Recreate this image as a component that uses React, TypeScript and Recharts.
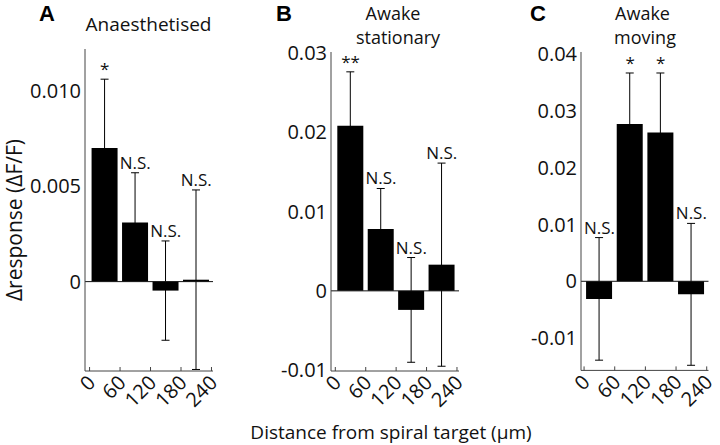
import { Bar, ComposedChart, ErrorBar, LabelList, Line, ReferenceLine, XAxis, YAxis } from "recharts";

// bar centres (µm)
const distances = [30, 90, 150, 210];
const xTicks = [0, 60, 120, 180, 240];
const xTickLabels = ["0", "60", "120", "180", "240"];

// A - anaesthetised
const anaesthetisedMean = [0.007, 0.0031, -0.00047, 0.0001];
const anaesthetisedErr = [0.0036, 0.0026, 0.0026, 0.0047];
const anaesthetisedSig = ["*", "N.S.", "N.S.", "N.S."];
const anaesthetisedTicks = [0, 0.005, 0.01];
const anaesthetisedTickLabels = ["0", "0.005", "0.010"];

// B - awake stationary
const stationaryMean = [0.0208, 0.0078, -0.0024, 0.0033];
const stationaryErr = [0.0068, 0.0051, 0.0066, 0.0128];
const stationarySig = ["**", "N.S.", "N.S.", "N.S."];
const stationaryTicks = [-0.01, 0, 0.01, 0.02, 0.03];
const stationaryTickLabels = ["-0.01", "0", "0.01", "0.02", "0.03"];

// C - awake moving
const movingMean = [-0.0031, 0.0277, 0.0262, -0.0023];
const movingErr = [0.0108, 0.009, 0.0105, 0.0125];
const movingSig = ["N.S.", "*", "*", "N.S."];
const movingTicks = [-0.01, 0, 0.01, 0.02, 0.03, 0.04];
const movingTickLabels = ["-0.01", "0", "0.01", "0.02", "0.03", "0.04"];

const FONT = "'Open Sans', sans-serif";
const AXIS = "#444";
const Y_AXIS_W = 60;
const M_TOP = 20;
const M_RIGHT = 10;
const X_AXIS_H = 45;

const XTick = ({ x, y, payload, index }: any) => {
  const tx = x + 7;
  const ty = y + 13;
  return (
    <g>
      <line x1={x} y1={y} x2={x} y2={y - 4} stroke={AXIS} />
      <text
        x={tx}
        y={ty}
        textAnchor="end"
        transform={`rotate(-45, ${tx}, ${ty})`}
        fontSize={20}
        fontFamily={FONT}
        fill="#111"
      >
        {xTickLabels[index] ?? payload.value}
      </text>
    </g>
  );
};

interface IPanelProps {
  mean: number[];
  err: number[];
  sig: string[];
  yTicks: number[];
  yTickLabels: string[];
  yDomain: [number, number];
  xDomain: [number, number];
  left: number;
  top: number;
  plotW: number;
  plotH: number;
}

const Panel = ({ mean, err, sig, yTicks, yTickLabels, yDomain, xDomain, left, top, plotW, plotH }: IPanelProps) => {
  const data = distances.map((x, i) => ({
    x,
    mean: mean[i],
    err: err[i],
    top: mean[i] + err[i],
    sig: sig[i],
  }));

  const fmtY = (v: number) => {
    let best = 0;
    yTicks.forEach((t, i) => {
      if (Math.abs(t - v) < Math.abs(yTicks[best] - v)) best = i;
    });
    return yTickLabels[best];
  };

  return (
    <div style={{ position: "absolute", left: left - Y_AXIS_W, top: top - M_TOP }}>
      <ComposedChart
        width={Y_AXIS_W + plotW + M_RIGHT}
        height={M_TOP + plotH + X_AXIS_H}
        data={data}
        margin={{ top: M_TOP, right: M_RIGHT, bottom: 0, left: 0 }}
      >
        <XAxis
          dataKey="x"
          type="number"
          domain={xDomain}
          ticks={xTicks}
          allowDataOverflow
          height={X_AXIS_H}
          tickSize={0}
          tickMargin={0}
          tickLine={false}
          axisLine={{ stroke: AXIS }}
          tick={<XTick />}
          interval={0}
        />
        <YAxis
          type="number"
          domain={yDomain}
          ticks={yTicks}
          allowDataOverflow
          width={Y_AXIS_W}
          tickSize={0}
          tickMargin={4}
          tickLine={false}
          axisLine={{ stroke: AXIS }}
          tickFormatter={fmtY}
          tick={{ fontSize: 20, fill: "#111", fontFamily: FONT }}
          interval={0}
        />
        <Bar dataKey="mean" fill="#000" barSize={26} isAnimationActive={false}>
          <ErrorBar dataKey="err" width={4} stroke="#000" strokeWidth={1} direction="y" />
        </Bar>
        <ReferenceLine y={0} stroke="#111" />
        <Line dataKey="top" stroke="none" dot={false} activeDot={false} isAnimationActive={false}>
          <LabelList dataKey="sig" position="top" offset={4} fontSize={17} fontFamily={FONT} fill="#111" />
        </Line>
      </ComposedChart>
    </div>
  );
};

const txt = { fontFamily: FONT, fill: "#111" };
const letter = { fontFamily: "'Liberation Sans', Arial, sans-serif", fontWeight: 700, fontSize: 22, fill: "#000" };

export default function App() {
  return (
    <div style={{ position: "absolute", left: 0, top: 0, width: 720, height: 445, background: "#fff" }}>
      <Panel
        mean={anaesthetisedMean}
        err={anaesthetisedErr}
        sig={anaesthetisedSig}
        yTicks={anaesthetisedTicks}
        yTickLabels={anaesthetisedTickLabels}
        yDomain={[-0.00468, 0.01218]}
        xDomain={[-9, 243]}
        left={84.5}
        top={49}
        plotW={128}
        plotH={322}
      />
      <Panel
        mean={stationaryMean}
        err={stationaryErr}
        sig={stationarySig}
        yTicks={stationaryTicks}
        yTickLabels={stationaryTickLabels}
        yDomain={[-0.0101, 0.0301]}
        xDomain={[-8.5, 244]}
        left={330.7}
        top={52}
        plotW={128}
        plotH={319}
      />
      <Panel
        mean={movingMean}
        err={movingErr}
        sig={movingSig}
        yTicks={movingTicks}
        yTickLabels={movingTickLabels}
        yDomain={[-0.0157, 0.0404]}
        xDomain={[-6, 243.5]}
        left={581}
        top={52.3}
        plotW={127.5}
        plotH={318.4}
      />
      <svg width={720} height={445} style={{ position: "absolute", left: 0, top: 0, pointerEvents: "none" }}>
        <text x={39} y={21} style={letter}>A</text>
        <text x={276} y={21} style={letter}>B</text>
        <text x={530} y={21} style={letter}>C</text>
        <text x={148.5} y={31} textAnchor="middle" fontSize={19} style={txt}>Anaesthetised</text>
        <text x={393} y={19.5} textAnchor="middle" fontSize={18} style={txt}>Awake</text>
        <text x={398} y={44} textAnchor="middle" fontSize={18} style={txt}>stationary</text>
        <text x={642.5} y={19.5} textAnchor="middle" fontSize={18} style={txt}>Awake</text>
        <text x={645} y={44} textAnchor="middle" fontSize={18} style={txt}>moving</text>
        <text x={22} y={220} textAnchor="middle" fontSize={21} transform="rotate(-90, 22, 220)" style={txt}>
          Δresponse (ΔF/F)
        </text>
        <text x={391} y={439} textAnchor="middle" fontSize={19} style={txt}>Distance from spiral target (μm)</text>
      </svg>
    </div>
  );
}
